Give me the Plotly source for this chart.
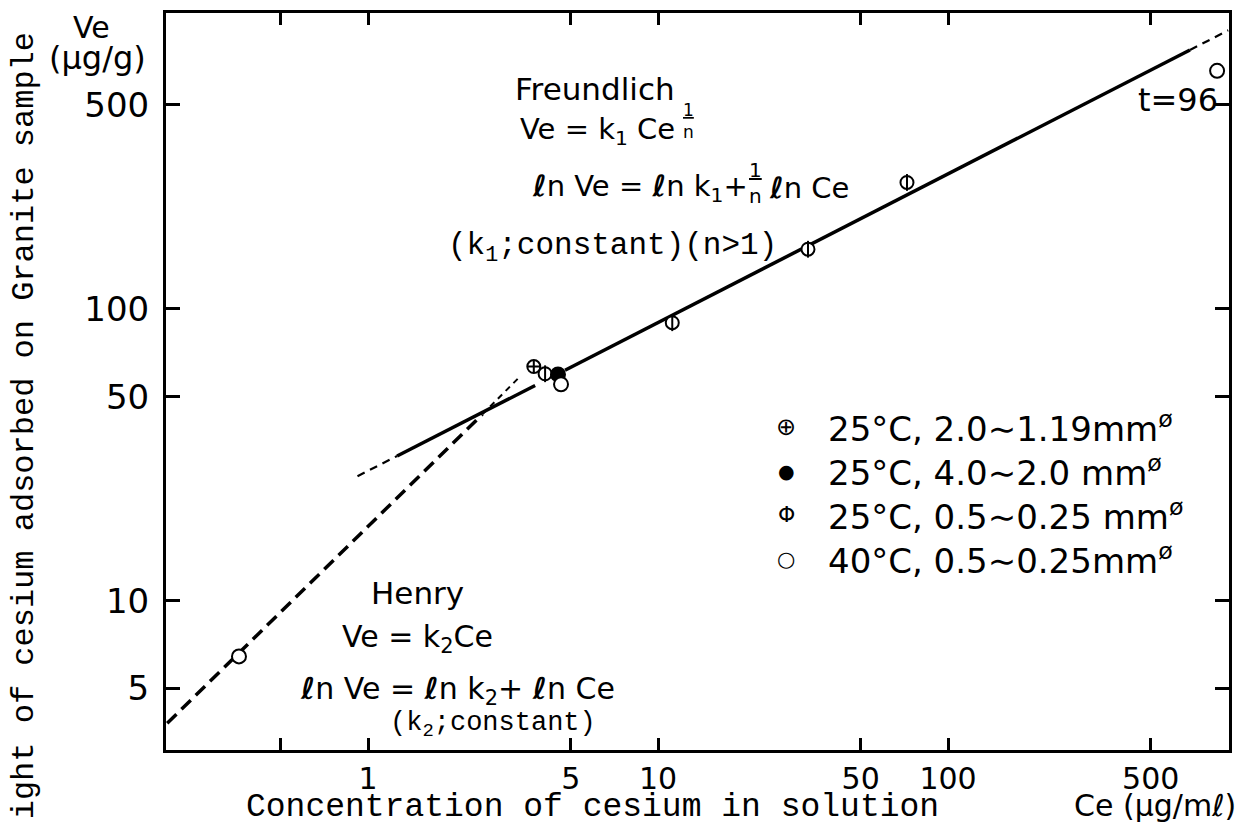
import plotly.graph_objects as go

# ---------------- data ----------------
# marker series (Ce in ug/ml, Ve in ug/g)
ce_s1 = [3.73]
ve_s1 = [63.4]                      # (+) 25C, 2.0~1.19 mm
ce_s2 = [4.52]
ve_s2 = [59.6]                      # (●) 25C, 4.0~2.0 mm
ce_s3 = [4.08, 11.2, 32.9, 72.2]
ve_s3 = [59.9, 89.6, 160, 271]      # (Φ) 25C, 0.5~0.25 mm
ce_s4 = [0.359, 4.63, 847]
ve_s4 = [6.44, 55.1, 654]           # (○) 40C, 0.5~0.25 mm

# Freundlich line
fr_a_ce = [1.26, 3.77]
fr_a_ve = [31.3, 54.6]
fr_b_ce = [4.78, 683]
fr_b_ve = [61.6, 771]
fr_lo_ce = [0.92, 1.26]
fr_lo_ve = [26.7, 31.3]
fr_hi_ce = [683, 925]
fr_hi_ve = [771, 900]
# Henry line
he_ce = [0.203, 2.48]
he_ve = [3.80, 43.5]
he_ext_ce = [2.48, 3.29]
he_ext_ve = [43.5, 57.7]

x_tickvals = [0.5, 1, 5, 10, 50, 100, 500]
x_ticktext = ["", "1", "5", "10", "50", "100", "500"]
y_tickvals = [5, 10, 50, 100, 500]
y_ticktext = ["5", "10", "50", "100", "500"]

legend_symbols = ["⊕", "●", "Φ", "○"]
legend_sym_sizes = [24, 19, 22, 21]
legend_labels = ["25°C, 2.0∼1.19mm<sup>ø</sup>",
                 "25°C, 4.0∼2.0 mm<sup>ø</sup>",
                 "25°C, 0.5∼0.25 mm<sup>ø</sup>",
                 "40°C, 0.5∼0.25mm<sup>ø</sup>"]

# ---------------- layout geometry ----------------
W, H = 1244, 828
L, R, T, B = 166, 1229, 10, 750
SANS = "DejaVu Sans"
MONO = "Liberation Mono"


def px(x):
    return (x - L) / (R - L)


def py(y):
    return (B - y) / (B - T)


fig = go.Figure()

BLK = "black"


def line(xs, ys, width, dash="solid"):
    fig.add_trace(go.Scatter(x=xs, y=ys, mode="lines",
                             line=dict(color=BLK, width=width, dash=dash),
                             showlegend=False, hoverinfo="skip"))


line(fr_lo_ce, fr_lo_ve, 2.2, "8px,6px")
line(fr_a_ce, fr_a_ve, 3.5)
line(fr_b_ce, fr_b_ve, 3.5)
line(fr_hi_ce, fr_hi_ve, 2.2, "8px,6px")
line(he_ce, he_ve, 3.5, "13px,7px")
line(he_ext_ce, he_ext_ve, 2.0, "6px,5px")


def pts(xs, ys, symbol, size, fill="white"):
    fig.add_trace(go.Scatter(x=xs, y=ys, mode="markers",
                             marker=dict(symbol=symbol, size=size, color=fill,
                                         line=dict(color=BLK, width=2)),
                             showlegend=False, hoverinfo="skip"))


pts(ce_s1, ve_s1, "circle-cross", 13)
pts(ce_s3, ve_s3, "circle", 13)
fig.add_trace(go.Scatter(x=ce_s3, y=ve_s3, mode="markers",
                         marker=dict(symbol="line-ns", size=12, color=BLK,
                                     line=dict(color=BLK, width=2)),
                         showlegend=False, hoverinfo="skip"))
pts(ce_s2, ve_s2, "circle", 14, fill=BLK)
pts(ce_s4, ve_s4, "circle", 14)

ann = []


def text(t, x, y, size=31, font=SANS, xa="center", ya="middle"):
    ann.append(dict(text=t, x=px(x), y=py(y), xref="paper", yref="paper",
                    xanchor=xa, yanchor=ya, showarrow=False,
                    font=dict(family=font, size=size, color=BLK)))


# y-axis unit
text("Ve", 91, 25, 30)
text("(μg/g)", 97, 55, 32)
# Freundlich block
text("Freundlich", 595, 86, 31)
text("Ve = k<sub>1</sub> Ce", 518, 128, 29, xa="left")
text("<u>1</u><br>n", 688, 118, 17)
text("<b>ℓ</b>n Ve = <b>ℓ</b>n k<sub>1</sub>+", 530, 186, 29, xa="left")
text("<u>1</u><br>n", 755, 181, 20)
text("<b>ℓ</b>n Ce", 767, 186, 29, xa="left")
text("(k<sub>1</sub>;constant)(n>1)", 779, 246, 31, font=MONO, xa="right")
# Henry block
text("Henry", 417, 592, 31)
text("Ve = k<sub>2</sub>Ce", 417, 638, 30)
text("<b>ℓ</b>n Ve = <b>ℓ</b>n k<sub>2</sub>+ <b>ℓ</b>n Ce", 298, 690, 30, xa="left")
text("(k<sub>2</sub>;constant)", 388, 725, 27, font=MONO, xa="left")
# t=96
text("t=96", 1178, 97, 32)
# legend
for i, (s, ss, lab) in enumerate(zip(legend_symbols, legend_sym_sizes, legend_labels)):
    yy = 426 + i * 44
    text(s, 786, yy, ss)
    text(lab, 826, yy, 34, xa="left")
# axis titles
text("Concentration of cesium in solution", 592, 808, 33, font=MONO)
text("Ce (μg/m<i>ℓ</i>)", 1155, 806, 30)
ann.append(dict(text="ight of cesium adsorbed on Granite sample",
                x=px(24), y=py(425), xref="paper", yref="paper",
                xanchor="center", yanchor="middle", textangle=-90,
                showarrow=False,
                font=dict(family=MONO, size=32, color=BLK)))

fig.update_layout(
    width=W, height=H,
    margin=dict(l=L, r=W - R, t=T, b=H - B, pad=0),
    paper_bgcolor="white", plot_bgcolor="white",
    showlegend=False,
    annotations=ann,
    xaxis=dict(type="log", range=[(L - 368) / 290, (R - 368) / 290],
               tickmode="array", tickvals=x_tickvals, ticktext=x_ticktext,
               ticks="inside", ticklen=12, tickwidth=2.5, tickcolor=BLK,
               showline=True, linewidth=3, linecolor=BLK, mirror="ticks",
               showgrid=False, zeroline=False,
               tickfont=dict(family=SANS, size=30, color=BLK)),
    yaxis=dict(type="log", range=[2 - (B - 307) / 293, 2 + (307 - T) / 293],
               tickmode="array", tickvals=y_tickvals, ticktext=y_ticktext,
               ticks="inside", ticklen=14, tickwidth=2.5, tickcolor=BLK,
               showline=True, linewidth=3, linecolor=BLK, mirror="ticks",
               showgrid=False, zeroline=False, ticklabelstandoff=7,
               tickfont=dict(family=SANS, size=34, color=BLK)),
)

fig.write_html("out.html")
